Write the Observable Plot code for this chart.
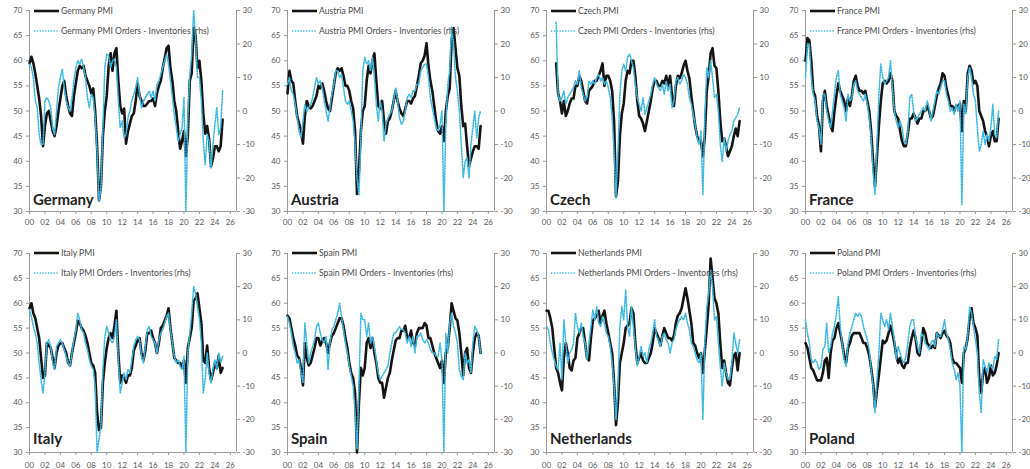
<!DOCTYPE html>
<html>
<head>
<meta charset="utf-8">
<script src="https://cdn.jsdelivr.net/npm/d3@7"></script>
<script src="https://cdn.jsdelivr.net/npm/@observablehq/plot@0.6"></script>
<style>
  body { margin: 0; background: #fff; }
  #chart { position: relative; width: 1030px; height: 469px; overflow: hidden; font-family: Lato, "Open Sans", sans-serif; }
  .panel { position: absolute; width: 258px; }
  .panel svg { position: absolute; left: 0; top: 0; }
  .legend { position: absolute; left: 34px; display: flex; align-items: center; font-size: 8.6px; color: #4a4a4a; white-space: nowrap; line-height: 1; }
  .legend svg { position: static; margin-right: 2px; }
  .country { position: absolute; left: 33px; font-size: 15px; font-weight: 700; color: #222; line-height: 1; }
</style>
</head>
<body>
<div id="chart"></div>
<script>
// Quarterly readings, Jan 2000 to Jan 2025 (101 points per series).
// PMI on the left axis, PMI new orders minus inventories on the right axis.

const germanyPmi = [
  59.5, 60.8, 59.5, 57.5,  55, 52.5, 49, 43,  47, 49.5, 50, 48,  46, 45, 47, 50,
  52.5, 55, 56, 53,  51, 49.5, 49, 53,  55.5, 58, 59, 58.5,  59, 57, 56, 55,
  53.5, 54.5, 50, 43,  32.2, 35, 45, 50,  53, 59, 61.5, 58,  61.5, 62.5, 56, 51,
  49.5, 50.5, 43.5, 46,  47.5, 49, 49.5, 52,  55.5, 53, 52, 51,  51, 51.5, 52, 52,
  52.5, 51, 53.5, 55,  56, 58.5, 60.5, 62.5,  63, 58.5, 56, 52,  50, 46, 42.5, 44,
  46, 41, 45, 56,  57.5, 66.5, 65, 58.5,  60, 56, 49.5, 45.5,  47, 44.5, 39, 40.5,
  43, 43, 42, 43,  48.3
];
const germanyOrdInv = [
  14, 13, 10, 3,  1, -7, -10, -10,  3, 4, 3, 1,  -5, -7, 0, 7,
  10, 12.5, 7, 3,  1, 0, 4, 9,  13, 15, 14, 15.5,  13, 10, 4, 1,
  5, 4, -2, -12,  -27, -23, -5, 13,  17, 16.5, 13, 15,  15.5, 13, 3, -5,
  -3, -8, -7, -2,  0, 3, 5, 7,  10, 5, 1, 3,  4, 5, 6, 4,
  6, 3, 8, 9,  11, 13, 15, 17,  14, 9, 4, -1,  -5, -9, -7, -5,
  4, -30, -2, 11,  17, 30, 22, 10,  10, 3, -9, -16,  -7, -9, -17, -10,
  -4, 1, -7, -5,  6
];

const austriaPmi = [
  53.5, 58, 56, 55.5,  52, 49, 47.5, 46,  43.5, 49, 52, 51,  50.5, 51, 52, 53,
  55, 54.5, 55.5, 54,  52, 50.5, 50, 52.5,  55, 57.5, 58.5, 58,  58.5, 57, 55, 55,
  54, 52, 50.5, 46,  33.5, 38, 46, 50,  51, 56, 59, 57.5,  60, 61.5, 56, 51,
  50.5, 52, 48, 45.5,  48, 48.5, 50, 52,  54, 52, 50.5, 49.5,  49, 50.5, 52, 52,
  51.5, 52.5, 53, 55,  57, 59.5, 60, 61,  63.5, 59, 56, 54,  51, 48, 46, 45.5,
  47, 44, 50, 53,  54.5, 64, 66.5, 62.5,  58.5, 57, 51, 47,  47.5, 43, 39, 40.5,
  42, 43, 43, 42.5,  47
];
const austriaOrdInv = [
  8, 10, 6, 5,  2, -2, -6, -8,  -3, 2, 0, 1,  2, 4, 7, 10,
  8, 9, 7, 3,  0, -3, 1, 5,  8, 12, 12, 10,  11, 7, 3, 2,
  3, 0, -3, -10,  -20, -25, -8, 12,  16, 14, 15, 12,  16, 10, 2, -3,
  3, 0, -9, -4,  -2, -1, 0, 3,  7, 3, -2, -4,  -3, 0, 4, 5,
  4, 6, 6, 8,  8, 12, 13, 14,  14, 10, 4, 1,  -2, -5, -6, -4,
  0, -30, -4, 8,  12, 25, 20, 10,  6, 0, -10, -20,  -15, -14, -20, -10,
  -5, 0, -8, -2,  0
];

const czechPmi = [
  null, null, null, null,  null, 59.5, 53.5, 52,  49.5, 52, 49, 50,  51.5, 52.5, 52.5, 55,
  55, 57, 56, 54,  52, 51.5, 54, 54.5,  55, 56, 56, 57,  58, 59.5, 55, 57,
  57, 56, 54, 48,  33, 36, 45, 49.5,  51.5, 56, 58, 57.5,  60, 60, 57, 52,
  49, 48.5, 47.5, 46,  48, 50, 52, 54.5,  56, 56, 55, 55,  56, 55.5, 57, 55,
  57, 53, 51, 55,  57, 56.5, 57.5, 59,  60, 58, 56.5, 53,  50, 47, 45, 44,
  44, 41, 45, 54,  57, 61.5, 62.5, 59,  58.5, 54, 48, 44,  44.5, 43, 41, 42,
  43, 45, 46.5, 45,  48
];
const czechOrdInv = [
  null, null, null, null,  null, 26.5, 5, 3,  4, 6, 2, 4,  5, 6, 7, 9,
  8, 12, 7, 5,  3, 4, 9, 8,  9, 8, 10, 11,  9, 10, 8, 9,
  7, 4, -2, -12,  -26, -12, 5, 12,  14, 12, 16, 17,  15, 13, 8, 4,
  2, 0, 4, -1,  1, 3, 5, 8,  10, 8, 7, 6,  8, 5, 9, 6,
  8, 1, 3, 9,  10, 8, 9, 11,  10, 8, 4, 2,  -1, -4, -8, -10,
  -6, -25, -2, 13,  10, 15, 10, 4,  5, 0, -10, -15,  -8, -12, -9, -7,
  -6, -3, -2, -1,  1
];

const francePmi = [
  60, 64.5, 64, 60,  54, 53, 49, 47,  42, 52, 54, 51,  49, 47, 46, 50,
  53, 55.5, 54, 53,  52, 50, 52.5, 51,  53, 56, 57, 55,  54, 54, 53.5, 54,
  52, 50, 46, 40,  35, 41, 47, 52,  55.5, 56, 55.5, 56,  57.5, 56, 50, 49,
  48.5, 46, 44, 43,  43, 45.5, 48.5, 48.5,  49.5, 48.5, 47.5, 48.5,  48.5, 50, 50, 51,
  50, 48.5, 49, 51,  53, 54.5, 55.5, 57.5,  57, 54.5, 53, 51,  51, 50, 51, 51,
  51.5, 46, 52, 50,  57.5, 59, 58, 55.5,  56, 55, 50, 49,  48, 46, 45, 43,
  45, 46, 44, 44,  48.5
];
const franceOrdInv = [
  10, 20, 20, 10,  5, 3, -3, -5,  -10, 5, 5, 0,  -3, -5, 0, 5,
  10, 12, 5, 3,  1, -3, 5, 3,  4, 8, 9, 6,  5, 4, 3, 5,
  2, -2, -8, -18,  -25, -10, 5, 14,  10, 8, 9, 10,  15, 7, 0, -3,
  -5, -3, -5, -9,  -10, -6, 4, 5,  0, -3, -2, -1,  0, 1, 0, 3,
  1, -3, 0, 3,  6, 5, 7, 9,  9, 5, 3, 0,  1, -1, 2, 0,
  3, -28, 2, -1,  10, 13, 10, 5,  3, -5, -12, -10,  -6, -10, -7, -9,
  -5, 2, -7, -8,  0
];

const italyPmi = [
  59, 60, 58, 57,  55, 53, 49, 45,  45.5, 52, 51.5, 51,  49, 47, 50, 51.5,
  52, 52, 51, 50,  48, 47.5, 50, 52,  54, 56.5, 56, 55,  54.5, 53.5, 52, 50,
  48, 47.5, 46, 38,  34.5, 35, 44, 48,  51, 53, 54, 53,  55.5, 58.5, 50, 44,
  45.5, 45, 44, 45.5,  45.5, 47, 50.5, 51.5,  52.5, 53, 50, 48.5,  50.5, 54, 54, 54.5,
  53, 52, 50, 52,  55, 55.5, 56.5, 57.5,  59, 55, 52, 49,  48.5, 48, 48, 47,
  48.5, 44, 51, 53,  55, 60.5, 61, 62,  59, 56, 48.5, 48,  51.5, 47, 44.5, 46,
  48, 47, 49.5, 46,  47
];
const italyOrdInv = [
  13, 11, 8, 6,  3, -3, -8, -12,  -6, 3, 4, 2,  -3, -5, 2, 3,
  4, 3, 1, -1,  -3, -4, 0, 4,  7, 12, 10, 7,  6, 3, 1, -2,
  -4, -5, -10, -30,  -26, -22, -5, 5,  8, 6, 4, 3,  5, 10, -2, -12,
  -9, -6, -8, -5,  -6, -2, 2, 4,  5, 4, -1, -3,  2, 7, 8, 5,
  4, 3, 0, 4,  6, 7, 9, 11,  12, 7, 3, -1,  -3, -2, -4, -5,
  -1, -30, 0, 6,  12, 20, 18, 14,  10, 3, -12, -8,  0, -6, -9, -5,
  -2, -5, 0, -3,  -1
];

const spainPmi = [
  57.5, 57, 55, 53,  51.5, 49.5, 49, 47,  43.5, 52, 49, 47.5,  48, 49.5, 51, 53,
  53, 51.5, 52.5, 53,  52, 50, 52, 53.5,  54, 55, 56, 57,  57, 55.5, 53, 51,
  48, 46, 45, 42,  30, 40, 47, 45.5,  47, 52, 53, 51,  53, 50, 48, 45,
  44, 44, 41, 43,  45, 46, 48.5, 50.5,  52.5, 53, 53, 54.5,  54.5, 55.5, 53, 53,
  54.5, 52, 51.5, 54,  55, 55, 55, 56,  55.5, 53, 53, 51.5,  50, 49, 48, 47,
  48.5, 44, 50, 51,  55, 60, 58.5, 57,  56.5, 54, 50, 45.5,  50, 51, 47, 46,
  50, 53, 54, 53.5,  50
];
const spainOrdInv = [
  11, 9, 6, 2,  0, -3, -2, -6,  -9, 9, 3, -3,  0, 2, 4, 8,
  9, 6, 4, 3,  5, -5, 3, 7,  8, 10, 12, 15,  11, 7, 3, 0,
  -4, -7, -10, -18,  -29, -10, 12, 10,  10, 5, 9, 3,  5, 2, -2, -6,
  -8, -7, -6, -5,  -4, 0, 3, 6,  6, 7, 8, 7,  7, 6, 3, 5,
  2, 5, 0, 5,  5, 6, 4, 3,  4, 3, 1, 0,  0, -1, -1, 3,
  -2, -30, 6, 0,  9, 12, 8, 6,  3, -5, -7, -8,  0, -3, -2, -6,
  3, 8, 7, 5,  0
];

const netherlandsPmi = [
  58.5, 58.5, 57, 55,  51, 47, 46, 44,  42.5, 49, 52, 50,  47, 46.5, 48.5, 49,
  53, 54, 55, 55,  52, 49, 48.5, 53,  56.5, 57, 57.5, 58.5,  56, 57.5, 58.5, 56,
  54, 52, 50, 44,  35.5, 40, 48, 50,  52, 55, 55.5, 56,  59, 58, 52, 48,
  49, 50, 48.5, 48,  48, 49, 50, 52,  55, 54, 53, 51.5,  53.5, 55, 54, 53,
  53, 52.5, 53.5, 56,  57.5, 58, 59, 61,  63, 61, 58.5, 56,  52, 51.5, 50, 49,
  50, 46, 50.5, 55,  60, 69, 65, 61,  60, 58, 52, 47,  48.5, 46, 44, 43.5,
  47, 49.5, 50, 46.5,  50
];
const netherlandsOrdInv = [
  8, 7, 3, 0,  -2, -4, -5, 3,  -8, 10, 3, -3,  0, 1, 3, 12,
  8, 6, 9, 5,  3, -2, 3, 8,  13, 10, 14, 9,  8, 11, 9, 6,
  5, 2, -3, -10,  -20, -10, 8, 14,  10, 19, 8, 5,  14, 8, 2, -4,
  -1, 2, -1, 0,  -3, 1, 3, 6,  10, 5, 4, 2,  5, 6, 4, 3,
  0, 3, 4, 7,  9, 10, 11, 10,  12, 9, 7, 3,  2, 0, -2, -3,
  0, -20, 3, 14,  18, 25, 20, 10,  11, 3, -4, -10,  -3, -6, -8, -8,
  -3, 6, 3, 0,  4
];

const polandPmi = [
  52, 51, 49, 47,  46.5, 45.5, 44.5, 44.5,  44.5, 46, 48.5, 49,  45, 50, 52.5, 53,
  55, 56, 54, 52,  49.5, 48, 51, 52,  53.5, 54, 54, 54,  54, 53, 52, 52,
  51, 49.5, 47, 44,  39, 42.5, 45.5, 49,  52.5, 52, 52.5, 54,  55.5, 54, 52, 49.5,
  48, 49, 47.5, 47,  48, 48, 51, 53,  54.5, 53, 50, 49.5,  52, 55, 54, 52,
  51.5, 51, 51.5, 51,  54, 53.5, 53, 54,  54.5, 53.5, 53, 52,  49, 48, 48, 47.5,
  47, 44, 50, 51,  53, 57, 59, 56,  55, 53.5, 45, 42,  46, 47, 44, 45,
  47.5, 45.5, 46, 47.5,  50
];
const polandOrdInv = [
  10, 6, 3, -2,  -3, -2, -3, -5,  -4, 1, 2, 9,  0, 2, 6, 8,
  12, 17, 8, 3,  -2, -4, 3, 6,  8, 10, 12, 11,  12, 11, 8, 6,
  4, 1, -5, -10,  -18, -8, 0, 12,  10, 8, 10, 7,  12, 8, 4, -2,
  2, 0, -2, -3,  -1, 3, 8, 10,  10, 5, 2, 0,  6, 5, 3, 2,
  1, 3, 4, 2,  6, 5, 5, 7,  10, 6, 4, 1,  -3, -5, -8, -6,
  -10, -30, 2, 1,  5, 14, 12, 8,  4, 0, -12, -18,  -2, -4, -6, -3,
  -4, -5, -1, -2,  4
];

const countries = ["Germany", "Austria", "Czech", "France", "Italy", "Spain", "Netherlands", "Poland"];
const pmiSeries = [germanyPmi, austriaPmi, czechPmi, francePmi, italyPmi, spainPmi, netherlandsPmi, polandPmi];
const ordInvSeries = [germanyOrdInv, austriaOrdInv, czechOrdInv, franceOrdInv, italyOrdInv, spainOrdInv, netherlandsOrdInv, polandOrdInv];

const leftTicks = [30, 35, 40, 45, 50, 55, 60, 65, 70];
const rightTicks = [-30, -20, -10, 0, 10, 20, 30];
const yearTicks = [2000, 2002, 2004, 2006, 2008, 2010, 2012, 2014, 2016, 2018, 2020, 2022, 2024, 2026];

const dates = d3.range(101).map(i => 2000 + i / 4);
const xEnd = 2026.8;
const axisGrey = "#9a9a9a";
const textGrey = "#595959";
const pmiColor = "#141414";
const oiColor = "#3cb9e2";
const oiDash = "1.3,1.5";

// Right-hand values (-30..30) share the left scale (30..70)
const rhsToLeft = v => (v == null ? NaN : 50 + v * 2 / 3);
const leftToRhs = y => String(Math.round((y - 50) * 1.5));

const rows = [
  {top: 0, height: 235, mt: 10, mb: 24, xPad: 5, legend: [7, 27], labelTop: 192},
  {top: 235, height: 234, mt: 18, mb: 17, xPad: 7, legend: [14, 34], labelTop: 196}
];
const colLeft = [0, 258, 517, 776];

const root = document.getElementById("chart");

countries.forEach((name, k) => {
  const row = rows[Math.floor(k / 4)];
  const div = document.createElement("div");
  div.className = "panel";
  div.style.left = colLeft[k % 4] + "px";
  div.style.top = row.top + "px";
  div.style.height = row.height + "px";

  const pmi = dates.map((t, i) => ({t, v: pmiSeries[k][i]}));
  const oi = dates.map((t, i) => ({t, v: ordInvSeries[k][i]}));

  const chart = Plot.plot({
    width: 258,
    height: row.height,
    marginLeft: 29,
    marginRight: 22,
    marginTop: row.mt,
    marginBottom: row.mb,
    x: {domain: [2000, xEnd]},
    y: {domain: [30, 70]},
    style: {fontFamily: "Lato, 'Open Sans', sans-serif", fontSize: "8px", color: textGrey, background: "transparent", overflow: "visible"},
    marks: [
      Plot.ruleY([30], {stroke: axisGrey}),
      Plot.ruleX([2000], {stroke: axisGrey}),
      Plot.ruleX([xEnd], {stroke: axisGrey}),
      Plot.axisY({anchor: "left", ticks: leftTicks, tickSize: 3, tickPadding: 4, label: null, stroke: axisGrey, fill: textGrey}),
      Plot.axisY({anchor: "right", ticks: rightTicks.map(rhsToLeft), tickFormat: leftToRhs, tickSize: 3, tickPadding: 3, label: null, stroke: axisGrey, fill: textGrey}),
      Plot.axisX({ticks: yearTicks, tickFormat: d => String(d % 100).padStart(2, "0"), tickSize: 3, tickPadding: row.xPad, label: null, stroke: axisGrey, fill: textGrey}),
      Plot.lineY(pmi, {x: "t", y: "v", stroke: pmiColor, strokeWidth: 2.6, strokeLinejoin: "round"}),
      Plot.lineY(oi, {x: "t", y: d => rhsToLeft(d.v), stroke: oiColor, strokeWidth: 1.6, strokeDasharray: oiDash})
    ]
  });
  div.appendChild(chart);

  // Legend entries
  const entries = [
    {text: `${name} PMI`, stroke: pmiColor, width: 2.6, dash: null},
    {text: `${name} PMI Orders - Inventories (rhs)`, stroke: oiColor, width: 1.6, dash: oiDash}
  ];
  entries.forEach((e, j) => {
    const lg = document.createElement("div");
    lg.className = "legend";
    lg.style.top = row.legend[j] + "px";
    const sw = d3.create("svg").attr("width", 25).attr("height", 8);
    sw.append("line").attr("x1", 0).attr("x2", 25).attr("y1", 4).attr("y2", 4)
      .attr("stroke", e.stroke).attr("stroke-width", e.width).attr("stroke-dasharray", e.dash);
    lg.appendChild(sw.node());
    const span = document.createElement("span");
    span.textContent = e.text;
    lg.appendChild(span);
    div.appendChild(lg);
  });

  const label = document.createElement("div");
  label.className = "country";
  label.style.top = row.labelTop + "px";
  label.textContent = name;
  div.appendChild(label);

  root.appendChild(div);
});
</script>
</body>
</html>
